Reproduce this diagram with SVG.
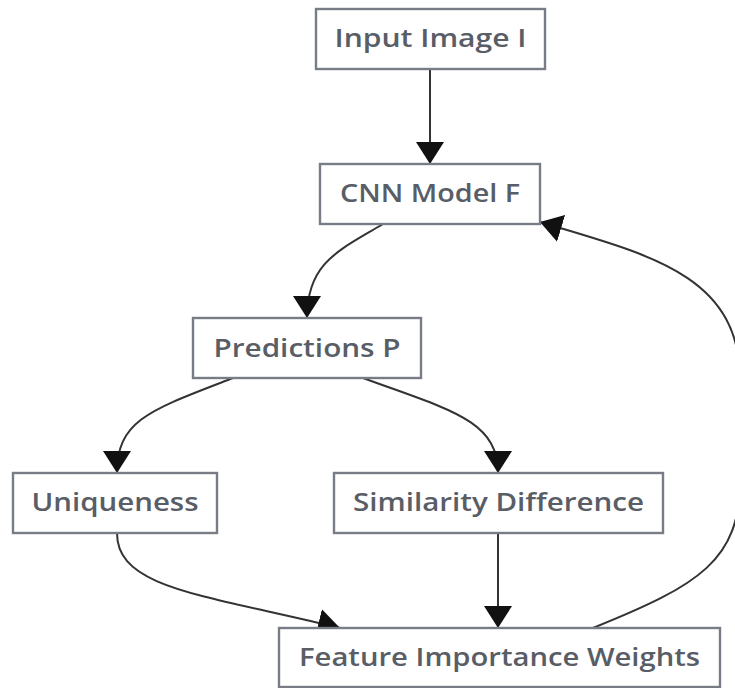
<svg xmlns="http://www.w3.org/2000/svg" width="735" height="688" viewBox="0 0 735 688">
  <style>
    .box { fill: #ffffff; stroke: #787c84; stroke-width: 2.4; }
    .lbl { font-family: "Open Sans", "Noto Sans", sans-serif; font-size: 26px; font-weight: 600; fill: #585d66; text-anchor: middle; }
    .edge { fill: none; stroke: #333333; stroke-width: 2; marker-end: url(#head); }
  </style>
  <defs>
    <marker id="head" viewBox="0 0 22 28" refX="22" refY="14" markerWidth="22" markerHeight="28" markerUnits="userSpaceOnUse" orient="auto">
      <path d="M0,0 L22,14 L0,28 z" fill="#111111"/>
    </marker>
  </defs>
  <rect width="735" height="688" fill="#ffffff"/>

  <g id="connectors">
    <path class="edge" d="M430,69 L430,164"/>
    <path class="edge" d="M383,224 C340,250 307,262 307,318"/>
    <path class="edge" d="M233,378 C150,410 117,420 117,473"/>
    <path class="edge" d="M363,378 C450,410 498,420 498,473"/>
    <path class="edge" d="M117,533 C117,588 200,594 340,628"/>
    <path class="edge" d="M498,533 L498,628"/>
    <path class="edge" d="M593,628 C700,585 740,560 740,480 L740,380 C740,275 650,255 540,222"/>
  </g>

  <g id="input-image">
    <rect class="box" x="316" y="9" width="229" height="60"/>
    <text class="lbl" x="430.5" y="47" textLength="192" lengthAdjust="spacingAndGlyphs">Input Image I</text>
  </g>
  <g id="cnn-model">
    <rect class="box" x="320" y="164" width="220" height="60"/>
    <text class="lbl" x="430" y="202" textLength="180" lengthAdjust="spacingAndGlyphs">CNN Model F</text>
  </g>
  <g id="predictions">
    <rect class="box" x="193" y="318" width="228" height="60"/>
    <text class="lbl" x="307" y="357" textLength="187" lengthAdjust="spacingAndGlyphs">Predictions P</text>
  </g>
  <g id="uniqueness">
    <rect class="box" x="13" y="473" width="204" height="60"/>
    <text class="lbl" x="115" y="511" textLength="167" lengthAdjust="spacingAndGlyphs">Uniqueness</text>
  </g>
  <g id="similarity-difference">
    <rect class="box" x="334" y="473" width="329" height="60"/>
    <text class="lbl" x="498.5" y="511" textLength="291" lengthAdjust="spacingAndGlyphs">Similarity Difference</text>
  </g>
  <g id="feature-weights">
    <rect class="box" x="279" y="628" width="441" height="59"/>
    <text class="lbl" x="499.5" y="666" textLength="401" lengthAdjust="spacingAndGlyphs">Feature Importance Weights</text>
  </g>
</svg>
